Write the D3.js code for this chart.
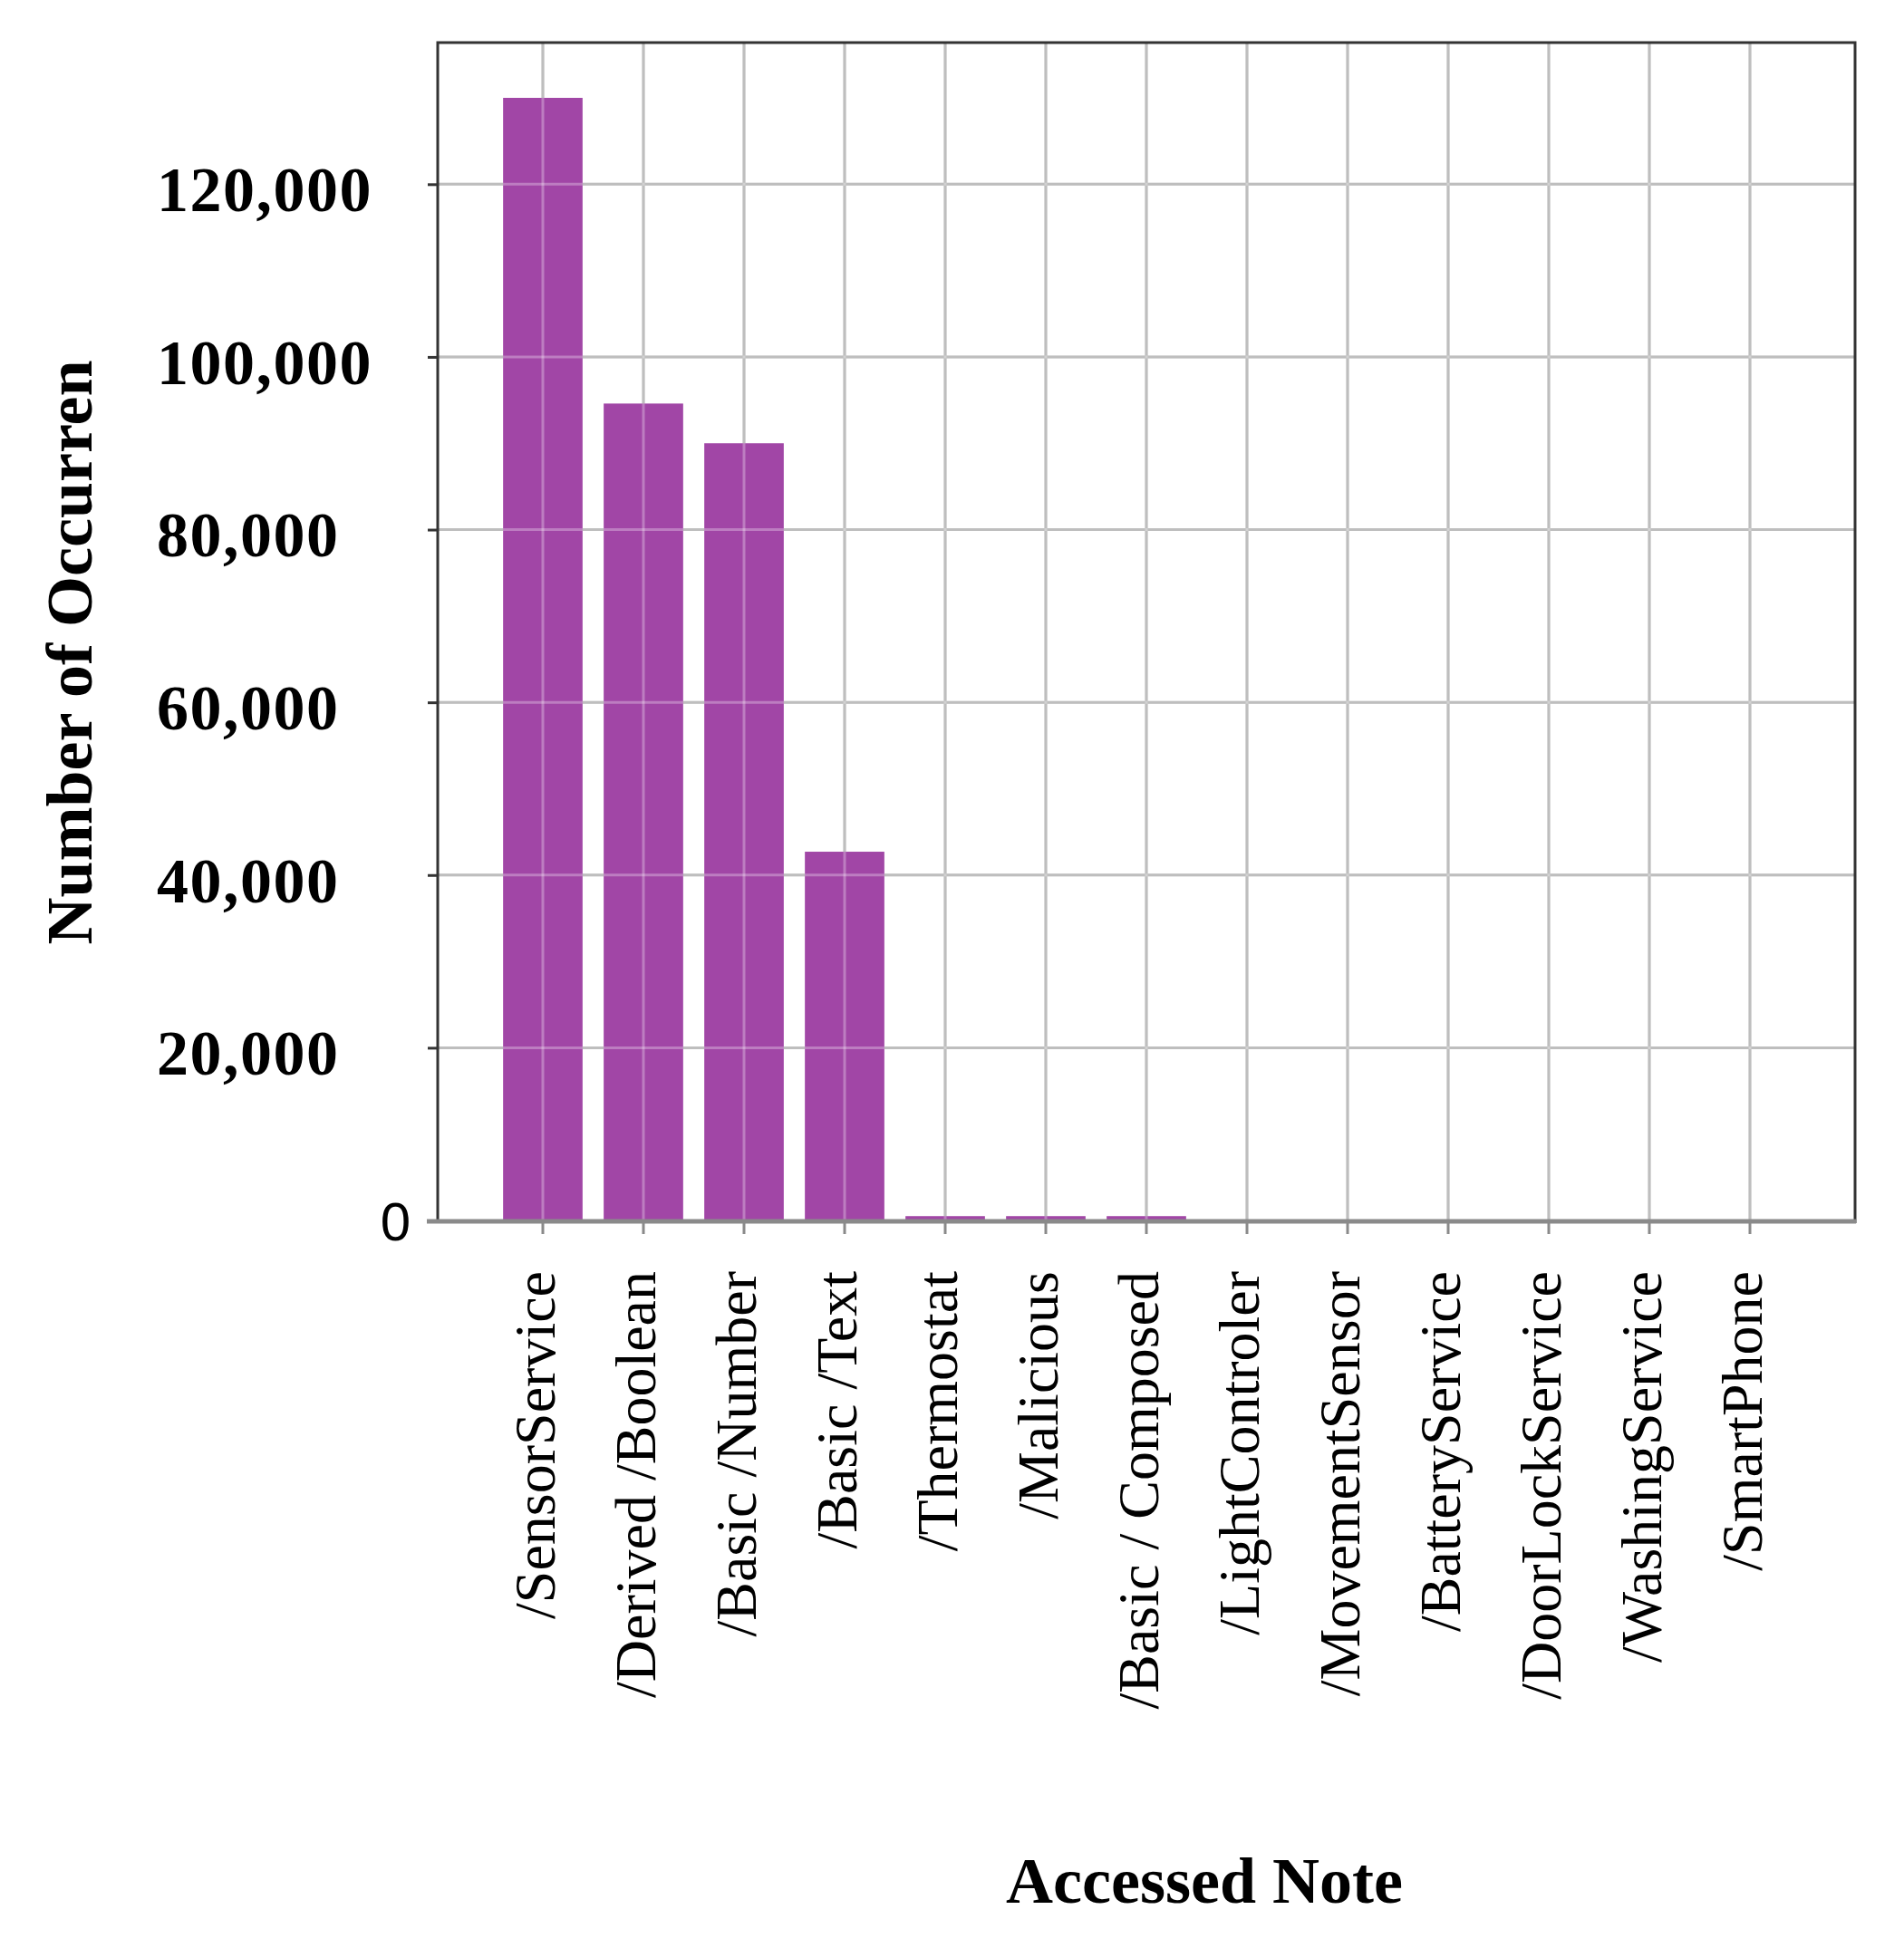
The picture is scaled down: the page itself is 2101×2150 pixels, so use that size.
<!DOCTYPE html>
<html>
<head>
<meta charset="utf-8">
<script src="https://cdn.jsdelivr.net/npm/d3@7"></script>
<style>
  html, body { margin: 0; padding: 0; background: #ffffff; }
  svg { display: block; }
</style>
</head>
<body>
<svg id="chart" width="2101" height="2150"></svg>
<script>
// ---- data ----
const categories = [
  "/SensorService", "/Derived /Boolean", "/Basic /Number", "/Basic /Text",
  "/Thermostat", "/Malicious", "/Basic / Composed", "/LightControler",
  "/MovementSensor", "/BatteryService", "/DoorLockService", "/WashingService",
  "/SmartPhone"
];
const values = [130000, 94600, 90000, 42700, 500, 500, 500, 0, 0, 0, 0, 0, 0];
const yTickValues = [0, 20000, 40000, 60000, 80000, 100000, 120000];
const yTickLabels = ["0", "20,000", "40,000", "60,000", "80,000", "100,000", "120,000"];
const xTitle = "Accessed Note";
const yTitle = "Number of Occurren";

// ---- layout ----
const W = 2101, H = 2150;
const plot = { left: 483, right: 2047, top: 47, bottom: 1347 };
const barColor = "#a146a6";

const svg = d3.select("#chart");
svg.append("rect").attr("width", W).attr("height", H).attr("fill", "#fff");

const x = d3.scaleBand()
  .domain(categories)
  .range([plot.left, plot.right])
  .paddingInner(0.21)
  .paddingOuter(0.65);

const y = d3.scaleLinear()
  .domain([0, 136400])
  .range([plot.bottom, plot.top]);

const gridTicks = yTickValues.filter(v => v > 0);

function drawGrid(g, color, opacity) {
  g.selectAll("line.h").data(gridTicks).join("line")
    .attr("class", "h")
    .attr("x1", plot.left).attr("x2", plot.right)
    .attr("y1", d => y(d)).attr("y2", d => y(d))
    .attr("stroke", color).attr("stroke-opacity", opacity).attr("stroke-width", 3);
  g.selectAll("line.v").data(categories).join("line")
    .attr("class", "v")
    .attr("x1", d => x(d) + x.bandwidth() / 2).attr("x2", d => x(d) + x.bandwidth() / 2)
    .attr("y1", plot.top).attr("y2", plot.bottom)
    .attr("stroke", color).attr("stroke-opacity", opacity).attr("stroke-width", 3);
}

// grid under bars
drawGrid(svg.append("g"), "#a3a3a3", 1);

// bars
svg.append("g").selectAll("rect").data(values).join("rect")
  .attr("x", (d, i) => x(categories[i]))
  .attr("width", x.bandwidth())
  .attr("y", d => y(d))
  .attr("height", d => y(0) - y(d))
  .attr("fill", barColor);

// light overlay of grid on top of bars
drawGrid(svg.append("g"), "#ffffff", 0.3);

// frame (left, top, right)
svg.append("path")
  .attr("d", `M${plot.left},${plot.bottom} V${plot.top} H${plot.right} V${plot.bottom + 3}`)
  .attr("fill", "none").attr("stroke", "#333").attr("stroke-width", 3);

// y axis
const yAxis = svg.append("g")
  .attr("transform", `translate(${plot.left},0)`)
  .call(d3.axisLeft(y).tickValues(yTickValues).tickSize(11).tickPadding(20)
    .tickFormat((d, i) => yTickLabels[i]));
yAxis.select(".domain").remove();
yAxis.selectAll(".tick line").attr("stroke", "#333").attr("stroke-width", 3);
yAxis.selectAll(".tick text")
  .attr("fill", "#000")
  .each(function(d) {
    const t = d3.select(this);
    if (d === 0) {
      t.attr("x", -30).attr("dy", "0.36em")
        .attr("text-anchor", "end")
        .style("font-family", "'Liberation Sans', 'DejaVu Sans', sans-serif")
        .style("font-size", "60px").style("font-weight", "300");
    } else {
      t.attr("x", 173 - plot.left).attr("dy", "0.42em")
        .attr("text-anchor", "start")
        .style("font-family", "'Liberation Serif', 'DejaVu Serif', serif")
        .style("font-size", "70px").style("font-weight", "bold")
        .style("letter-spacing", "1.5px");
    }
  });

// x axis
const xAxis = svg.append("g")
  .attr("transform", `translate(0,${plot.bottom})`)
  .call(d3.axisBottom(x).tickSize(15).tickSizeOuter(0));
xAxis.select(".domain").remove();
xAxis.selectAll(".tick line").attr("stroke", "#8a8a8a").attr("stroke-width", 3);
xAxis.selectAll(".tick text")
  .attr("fill", "#000")
  .attr("text-anchor", "end")
  .attr("transform", "rotate(-90)")
  .attr("x", -56)
  .attr("y", 13)
  .attr("dy", 0)
  .style("font-family", "'Liberation Serif', 'DejaVu Serif', serif")
  .style("font-size", "64px");

// bottom axis line (gray)
svg.append("line")
  .attr("x1", plot.left - 12).attr("x2", plot.right + 1)
  .attr("y1", plot.bottom + 1).attr("y2", plot.bottom + 1)
  .attr("stroke", "#8a8a8a").attr("stroke-width", 5);

// titles
svg.append("text")
  .attr("x", 1329).attr("y", 2100)
  .attr("text-anchor", "middle")
  .style("font-family", "'Liberation Serif', 'DejaVu Serif', serif")
  .style("font-size", "72px").style("font-weight", "bold")
  .text(xTitle);

svg.append("text")
  .attr("transform", "translate(101,720) rotate(-90)")
  .attr("text-anchor", "middle")
  .style("font-family", "'Liberation Serif', 'DejaVu Serif', serif")
  .style("font-size", "72px").style("font-weight", "bold")
  .text(yTitle);
</script>
</body>
</html>
